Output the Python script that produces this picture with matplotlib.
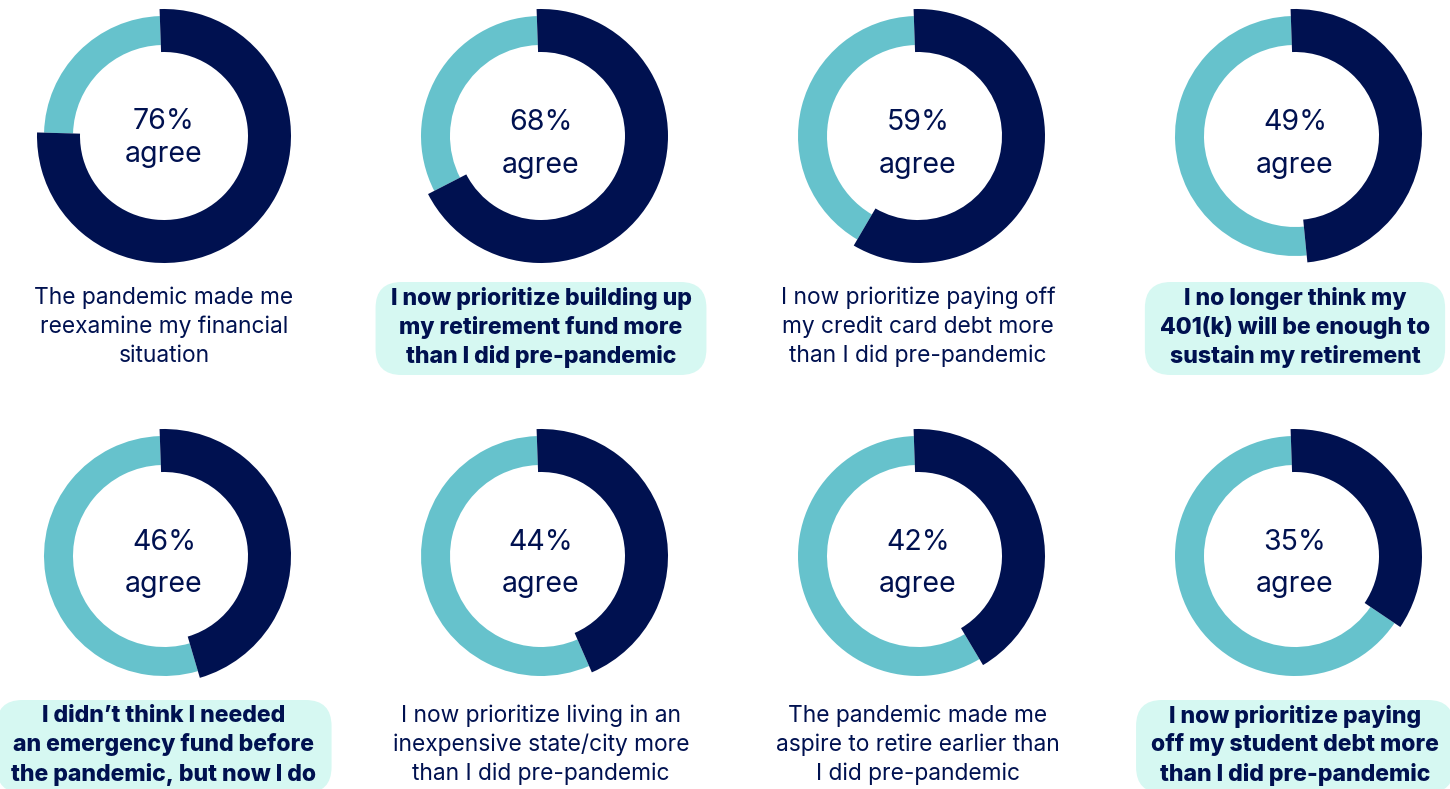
import matplotlib
matplotlib.use("Agg")
import matplotlib.pyplot as plt
from matplotlib.patches import FancyBboxPatch

plt.rcParams['font.family'] = ['Inter', 'DejaVu Sans']

# ---------------- data ----------------
values = [76, 68, 59, 49, 46, 44, 42, 35]
labels = [
    ["The pandemic made me", "reexamine my financial", "situation"],
    ["I now prioritize building up", "my retirement fund more", "than I did pre-pandemic"],
    ["I now prioritize paying off", "my credit card debt more", "than I did pre-pandemic"],
    ["I no longer think my", "401(k) will be enough to", "sustain my retirement"],
    ["I didn\u2019t think I needed", "an emergency fund before", "the pandemic, but now I do"],
    ["I now prioritize living in an", "inexpensive state/city more", "than I did pre-pandemic"],
    ["The pandemic made me", "aspire to retire earlier than", "I did pre-pandemic"],
    ["I now prioritize paying", "off my student debt more", "than I did pre-pandemic"],
]
highlighted = [False, True, False, True, True, False, False, True]

# ---------------- style ----------------
NAVY = "#001150"
TEAL = "#66c2cc"
HL = "#d6f8f2"
W, H = 1450, 789

fig = plt.figure(figsize=(W / 100, H / 100), dpi=100)
ax = fig.add_axes([0, 0, 1, 1])

col_x = [164, 541, 918, 1295]
row_y = [136, 556]          # donut centres (pixels from top)
label_y0 = [298, 716]       # first label line centre (pixels from top)
line_gap = 29

def Y(py):
    return H - py

renderer = fig.canvas.get_renderer()

for i, v in enumerate(values):
    r, c = divmod(i, 4)
    cx, cy = col_x[c], Y(row_y[r])
    # teal (remaining) ring: thinner
    ax.pie([v, 100 - v], colors=["none", TEAL], radius=120, center=(cx, cy),
           startangle=92, counterclock=False,
           wedgeprops=dict(width=29, linewidth=0, edgecolor="none"))
    # navy (agree) ring: thicker
    ax.pie([v, 100 - v], colors=[NAVY, "none"], radius=127, center=(cx, cy),
           startangle=92, counterclock=False,
           wedgeprops=dict(width=43, linewidth=0, edgecolor="none"))
    # centre text
    gap = 33 if i == 0 else 43
    top = 121 if i == 0 else 122
    ax.text(cx, Y(row_y[r] - 136 + top), f"{v}%", ha="center", va="center",
            fontsize=20.5, color=NAVY)
    ax.text(cx, Y(row_y[r] - 136 + top + gap), "agree", ha="center", va="center",
            fontsize=20.5, color=NAVY)

    # label lines
    weight = "heavy" if highlighted[i] else "normal"
    size = 16.6 if highlighted[i] else 16.4
    texts = []
    for k, line in enumerate(labels[i]):
        t = ax.text(cx, Y(label_y0[r] + k * line_gap), line, ha="center", va="center",
                    fontsize=size, color=NAVY, fontweight=weight, zorder=3)
        texts.append(t)
    if highlighted[i]:
        ax.set_xlim(0, W); ax.set_ylim(0, H)
        widths = [t.get_window_extent(renderer).width for t in texts]
        bw = max(widths) + 30
        top_px = label_y0[r] - 16
        bot_px = label_y0[r] + 2 * line_gap + 19
        box = FancyBboxPatch((cx - bw / 2, Y(bot_px)), bw, bot_px - top_px,
                             boxstyle="round,pad=0,rounding_size=26",
                             fc=HL, ec="none", zorder=1)
        ax.add_patch(box)

ax.set_xlim(0, W)
ax.set_ylim(0, H)
ax.set_aspect("equal")
ax.axis("off")
fig.savefig("out.png", dpi=100, facecolor="white")
